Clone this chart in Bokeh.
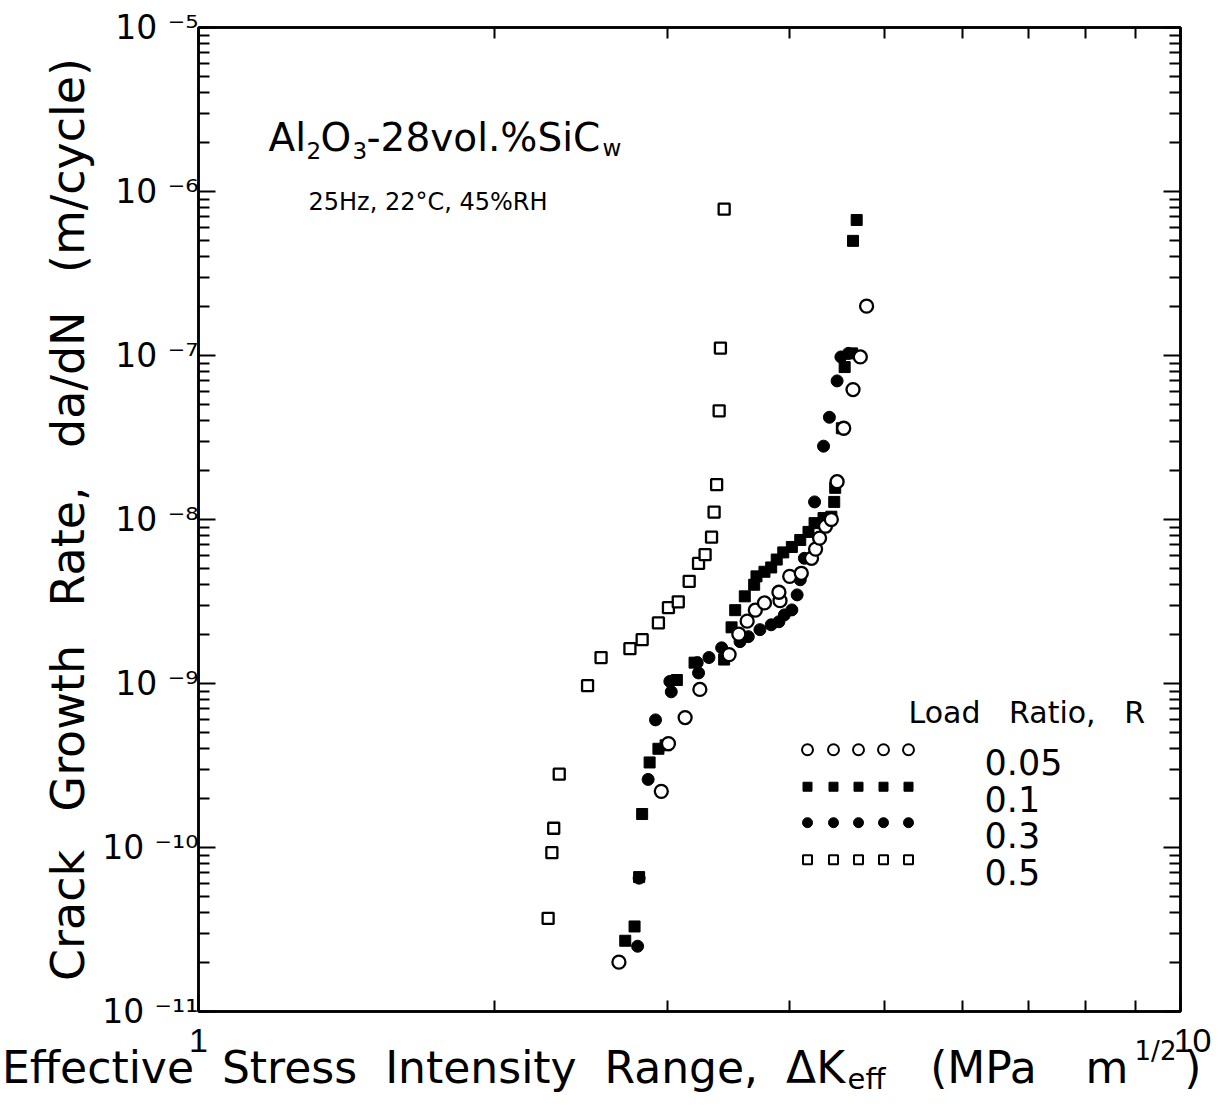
import math
from bokeh.plotting import figure
from bokeh.models import FixedTicker, LogAxis, Label, Range1d
from bokeh.embed import file_html
from bokeh.resources import INLINE

# ---------------- data ----------------
# R = 0.05 (open circles)
dk_r005 = [2.68, 2.96, 3.01, 3.13, 3.24, 3.47, 3.55, 3.62, 3.69, 3.77, 3.91, 3.90,
           4.00, 4.11, 4.21, 4.25, 4.29, 4.35, 4.41, 4.47, 4.54, 4.64, 4.72, 4.79]
dadn_r005 = [2.0e-11, 2.2e-10, 4.3e-10, 6.2e-10, 9.2e-10, 1.50e-9, 2.0e-9, 2.4e-9,
             2.8e-9, 3.1e-9, 3.2e-9, 3.6e-9, 4.5e-9, 4.7e-9, 5.8e-9, 6.6e-9, 7.7e-9,
             9.1e-9, 1.0e-8, 1.7e-8, 3.6e-8, 6.2e-8, 9.8e-8, 2.0e-7]

# R = 0.1 (filled squares)
dk_r01 = [2.72, 2.78, 2.81, 2.83, 2.88, 2.94, 2.99, 3.07, 3.20, 3.43, 3.49, 3.52,
          3.60, 3.68, 3.70, 3.77, 3.83, 3.88, 3.94, 4.02, 4.10, 4.18, 4.24, 4.33,
          4.41, 4.44, 4.45, 4.52, 4.55, 4.63, 4.64, 4.68]
dadn_r01 = [2.7e-11, 3.3e-11, 6.6e-11, 1.6e-10, 3.3e-10, 4.0e-10, 4.2e-10, 1.05e-9,
            1.34e-9, 1.40e-9, 2.2e-9, 2.8e-9, 3.4e-9, 4.0e-9, 4.5e-9, 4.8e-9, 5.1e-9,
            5.7e-9, 6.3e-9, 6.8e-9, 7.5e-9, 8.4e-9, 9.5e-9, 1.02e-8, 1.04e-8, 1.28e-8,
            1.56e-8, 3.6e-8, 8.5e-8, 1.03e-7, 5.0e-7, 6.7e-7]

# R = 0.3 (filled circles)
dk_r03 = [2.80, 2.81, 2.87, 2.92, 3.03, 3.02, 3.23, 3.22, 3.31, 3.41, 3.56, 3.63,
          3.73, 3.83, 3.90, 3.95, 4.02, 4.07, 4.10, 4.14, 4.24, 4.33, 4.39, 4.47,
          4.51, 4.59]
dadn_r03 = [2.5e-11, 6.5e-11, 2.6e-10, 6.0e-10, 8.9e-10, 1.03e-9, 1.16e-9, 1.34e-9,
            1.44e-9, 1.65e-9, 1.80e-9, 1.93e-9, 2.13e-9, 2.28e-9, 2.38e-9, 2.62e-9,
            2.81e-9, 3.47e-9, 4.29e-9, 5.8e-9, 1.28e-8, 2.8e-8, 4.2e-8, 7.0e-8,
            9.8e-8, 1.03e-7]

# R = 0.5 (open squares)
dk_r05 = [2.27, 2.29, 2.30, 2.33, 2.49, 2.57, 2.75, 2.83, 2.94, 3.01, 3.08, 3.16,
          3.23, 3.28, 3.33, 3.35, 3.37, 3.39, 3.40, 3.43]
dadn_r05 = [3.7e-11, 9.3e-11, 1.31e-10, 2.8e-10, 9.7e-10, 1.44e-9, 1.63e-9, 1.85e-9,
            2.34e-9, 2.9e-9, 3.15e-9, 4.2e-9, 5.4e-9, 6.1e-9, 7.8e-9, 1.11e-8,
            1.63e-8, 4.6e-8, 1.11e-7, 7.8e-7]

legend_labels = ["0.05", "0.1", "0.3", "0.5"]
x_major = [1, 10]
x_minor = [2, 3, 4, 5, 6, 7, 8, 9]
x_tick_labels = ["1", "\u00a0\u00a0\u200910"]
y_exponents = [-11, -10, -9, -8, -7, -6, -5]

SUP = {"0": "\u2070", "1": "\u00b9", "2": "\u00b2", "3": "\u00b3", "4": "\u2074",
       "5": "\u2075", "6": "\u2076", "7": "\u2077", "8": "\u2078", "9": "\u2079",
       "-": "\u207b"}
y_major = [10.0 ** e for e in y_exponents]
y_minor = [m * 10.0 ** e for e in y_exponents[:-1] for m in range(2, 10)]
y_tick_labels = ["10\u00a0" + "".join(SUP[c] for c in str(e)) for e in y_exponents]

# ---------------- layout ----------------
W, H = 1211, 1098
FL, FR, FT, FB = 198, 1180, 27, 1012          # frame edges in canvas px
FW, FH = FR - FL, FB - FT

def sx(px):
    return px - FL

def sy(py):
    return FB - py

def px_to_x(px):
    return 10 ** ((px - FL) / FW)

def py_to_y(py):
    return 10 ** (-11 + (FB - py) / FH * 6)

p = figure(width=W, height=H, x_axis_type="log", y_axis_type="log",
           x_range=Range1d(1, 10), y_range=Range1d(1e-11, 1e-5),
           output_backend="svg", toolbar_location=None, title=None,
           min_border_left=FL, min_border_right=W - FR,
           min_border_top=FT, min_border_bottom=H - FB)
p.grid.visible = False
p.outline_line_color = "black"
p.outline_line_width = 2.5
p.background_fill_color = "white"
p.border_fill_color = "white"

xt = FixedTicker(ticks=x_major, minor_ticks=x_minor)
yt = FixedTicker(ticks=y_major, minor_ticks=y_minor)

main_x = p.below[0]
main_y = p.left[0]
top_x = LogAxis()
right_y = LogAxis()
p.add_layout(top_x, "above")
p.add_layout(right_y, "right")

for ax in (main_x, top_x):
    ax.ticker = xt
for ax in (main_y, right_y):
    ax.ticker = yt
for ax in (main_x, top_x, main_y, right_y):
    ax.major_tick_in = 17
    ax.major_tick_out = 0
    ax.minor_tick_in = 11
    ax.minor_tick_out = 0
    ax.major_tick_line_width = 2
    ax.minor_tick_line_width = 2
    ax.axis_line_width = 2.5
for ax in (top_x, right_y):
    ax.major_label_text_font_size = "0px"
    ax.major_label_text_color = None
    ax.major_label_standoff = 0

# bottom tick labels 1 and 10
main_x.major_label_overrides = dict(zip(x_major, x_tick_labels))
main_x.major_label_text_font = "Liberation Sans"
main_x.major_label_text_font_size = "34px"
main_x.major_label_text_color = "black"
main_x.major_label_standoff = 9

# left tick labels 10^-n and y title
main_y.major_label_overrides = dict(zip(y_major, y_tick_labels))
main_y.major_label_text_font = "DejaVu Sans"
main_y.major_label_text_font_size = "33px"
main_y.major_label_text_color = "black"
main_y.major_label_standoff = 0
main_y.axis_label = ("Crack\u00a0\u00a0\u2009Growth\u00a0\u00a0\u2009Rate,\u00a0\u00a0\u2009"
                     "da/dN\u00a0\u00a0\u2009(m/cycle)")
main_y.axis_label_text_font = "DejaVu Sans"
main_y.axis_label_text_font_size = "46px"
main_y.axis_label_text_font_style = "normal"
main_y.axis_label_text_color = "black"
main_y.axis_label_standoff = 4

# x title, built from pieces placed along extra label-only axes
def label_axis(pieces, size, standoff):
    ticks = [px_to_x(c) for c, _ in pieces]
    ax = LogAxis(ticker=FixedTicker(ticks=ticks, minor_ticks=[]),
                 major_label_overrides={t: s for t, (_, s) in zip(ticks, pieces)},
                 axis_line_color=None, major_tick_line_color=None,
                 minor_tick_line_color=None, major_tick_in=0, major_tick_out=0,
                 minor_tick_in=0, minor_tick_out=0,
                 major_label_standoff=standoff,
                 major_label_text_font="DejaVu Sans",
                 major_label_text_font_size=size,
                 major_label_text_color="black")
    p.add_layout(ax, "below")
    return ax

label_axis([(423, "Effective\u00a0\u00a0Stress\u00a0\u00a0Intensity\u00a0\u00a0Range,\u00a0\u00a0\u0394K"),
            (983, "(MPa"),
            (1143, "m\u00a0\u00a0\u00a0\u00a0)")], "44px", -20)
label_axis([(866, "eff")], "29px", -34)
label_axis([(1155, "1/2")], "26px", -63)

# ---------------- data markers ----------------
p.scatter(dk_r05, dadn_r05, marker="square", size=11, fill_color="white",
          line_color="black", line_width=2.3)
p.scatter(dk_r03, dadn_r03, marker="circle", size=12, fill_color="black",
          line_color="black", line_width=1)
p.scatter(dk_r01, dadn_r01, marker="square", size=11, fill_color="black",
          line_color="black", line_width=1)
p.scatter(dk_r005, dadn_r005, marker="circle", size=13, fill_color="white",
          line_color="black", line_width=2.3)

# ---------------- legend (drawn by hand, 5 symbols per row) ----------------
leg_px = [807, 833, 858, 883, 908]
leg_py = [750, 787, 823, 860]
styles = [
    dict(marker="circle", size=11, fill_color="white", line_width=2),
    dict(marker="square", size=9, fill_color="black", line_width=1),
    dict(marker="circle", size=10, fill_color="black", line_width=1),
    dict(marker="square", size=9, fill_color="white", line_width=2),
]

def lab(text, px, py, size, font="DejaVu Sans", align="left", baseline="alphabetic"):
    p.add_layout(Label(x=sx(px), y=sy(py), x_units="screen", y_units="screen",
                       text=text, text_font=font, text_font_size=size,
                       text_align=align, text_baseline=baseline, text_color="black"))

for row_py, st, txt in zip(leg_py, styles, legend_labels):
    p.scatter([px_to_x(px) for px in leg_px], [py_to_y(row_py)] * len(leg_px),
              line_color="black", **st)
    lab(txt, 984, row_py + 12, "35px")

lab("Load\u00a0\u00a0\u00a0Ratio,\u00a0\u00a0\u00a0R", 908, 713, "30px")

# ---------------- title texts ----------------
lab("Al", 268, 138, "39px")
lab("2", 306, 151, "23px")
lab("O", 320, 138, "39px")
lab("3", 352, 151, "23px")
lab("-28vol.%SiC", 366, 138, "39px")
lab("w", 602, 148, "23px")
lab("25Hz, 22°C, 45%RH", 308, 202, "24px")

open("out.html", "w").write(file_html(p, INLINE))
